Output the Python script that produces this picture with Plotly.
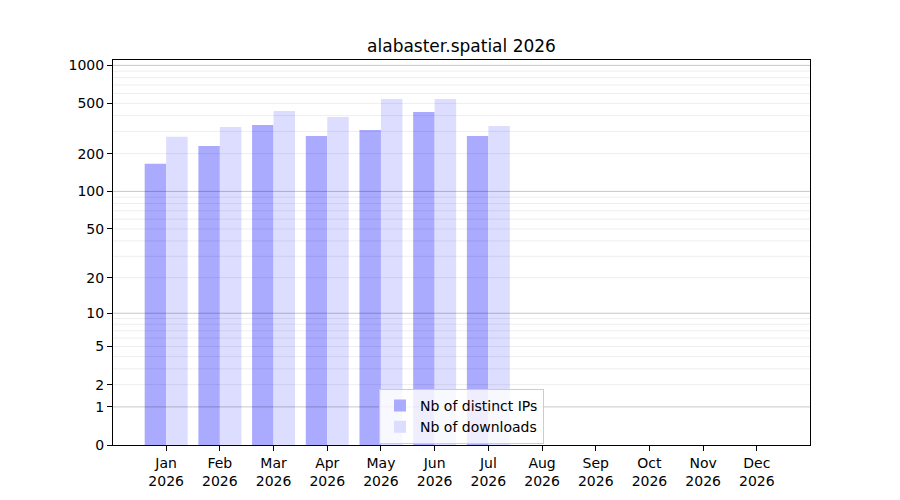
import numpy as np
import plotly.graph_objects as go

# monthly stats, Aug-Dec have no data yet
months = ["Jan", "Feb", "Mar", "Apr", "May", "Jun",
          "Jul", "Aug", "Sep", "Oct", "Nov", "Dec"]
year = "2026"
distinct_ips = [166, 230, 338, 276, 308, 428, 276, 0, 0, 0, 0, 0]
downloads = [272, 325, 436, 391, 543, 543, 331, 0, 0, 0, 0, 0]

ytick_labels = [0, 1, 2, 5, 10, 20, 50, 100, 200, 500, 1000]
major_grid = [1, 10, 100, 1000]
minor_grid = [m * d for d in (1, 10, 100) for m in range(2, 10)]


# y axis is log10(1 + n), like a matplotlib function scale
def f(v):
    return np.log10(1 + np.asarray(v, dtype=float))


x = list(range(len(months)))

fig = go.Figure()
fig.add_trace(go.Bar(x=x, y=f(distinct_ips), name="Nb of distinct IPs",
                     marker=dict(color="#aaaaff", line=dict(width=0))))
fig.add_trace(go.Bar(x=x, y=f(downloads), name="Nb of downloads",
                     marker=dict(color="#ddddff", line=dict(width=0))))

# grid drawn over the bars, as in the original
shapes = []
for v in minor_grid:
    shapes.append(dict(type="line", xref="paper", x0=0, x1=1, yref="y",
                       y0=float(f(v)), y1=float(f(v)), layer="above",
                       line=dict(color="rgba(0,0,0,0.07)", width=1)))
for v in major_grid:
    shapes.append(dict(type="line", xref="paper", x0=0, x1=1, yref="y",
                       y0=float(f(v)), y1=float(f(v)), layer="above",
                       line=dict(color="rgba(0,0,0,0.22)", width=1)))

# the html page adds an 8px body margin, so margins are shifted by 8px
fig.update_layout(
    width=900, height=500,
    margin=dict(l=105, r=98, t=52, b=63),
    paper_bgcolor="white", plot_bgcolor="white",
    font=dict(family="DejaVu Sans", size=14, color="black"),
    title=dict(text="alabaster.spatial 2026", x=(105 + 802) / 2 / 900,
               xanchor="center", y=1 - 38 / 500, yanchor="middle",
               font=dict(size=17)),
    barmode="group", bargap=0.2, bargroupgap=0,
    shapes=shapes,
    legend=dict(x=0.5, xanchor="center", y=0.003, yanchor="bottom",
                bgcolor="rgba(255,255,255,0.8)", bordercolor="#cccccc",
                borderwidth=1, font=dict(size=14), tracegroupgap=4),
    showlegend=True,
)
fig.update_xaxes(
    range=[-0.99, 11.99], tickvals=x,
    ticktext=[f"{m}<br>{year}" for m in months],
    showgrid=False, zeroline=False, showline=True, linecolor="black",
    linewidth=1, mirror=True, ticks="outside", ticklen=5, tickcolor="black",
    automargin=False,
)
fig.update_yaxes(
    range=[0, 3.043], tickvals=list(f(ytick_labels)),
    ticktext=[str(t) for t in ytick_labels],
    showgrid=False, zeroline=False, showline=True, linecolor="black",
    linewidth=1, mirror=True, ticks="outside", ticklen=5, tickcolor="black",
    automargin=False,
)

fig.write_html("out.html")
